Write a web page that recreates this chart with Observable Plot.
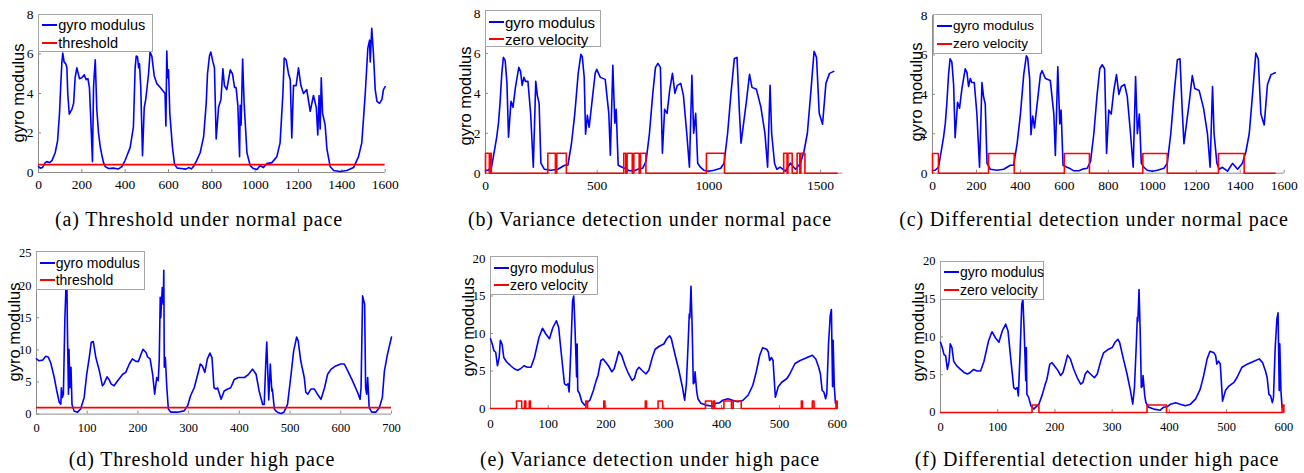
<!DOCTYPE html>
<html>
<head>
<meta charset="utf-8">
<script src="https://cdn.jsdelivr.net/npm/d3@7"></script>
<script src="https://cdn.jsdelivr.net/npm/@observablehq/plot@0.6"></script>
<style>
  body { margin: 0; background: #fff; }
  #fig { position: relative; width: 1304px; height: 473px; overflow: hidden; background: #fff; }
  .panel { position: absolute; }
  .ylab { position: absolute; font-family: "Liberation Sans", Arial, sans-serif; font-size: 16.5px; white-space: nowrap;
          transform: translate(-50%, -50%) rotate(-90deg); line-height: 1; color: #000; }
  .cap { position: absolute; font-family: "Liberation Serif", "Times New Roman", serif; font-size: 20px; line-height: 20px;
         white-space: nowrap; transform: translateX(-50%); letter-spacing: 0.85px; color: #000; }
  .legend { position: absolute; background: #fff; border: 1px solid #a6a6a6; box-sizing: border-box;
            font-family: "Liberation Sans", Arial, sans-serif; color: #000; }
  .legend .sw { position: absolute; height: 2px; width: 15px; left: 3px; }
  .legend .lt { position: absolute; left: 19px; line-height: 1; white-space: nowrap; transform: translateY(-50%); }
</style>
</head>
<body>
<div id="fig"></div>
<script>
// ---------- (a) Threshold under normal pace ----------
const aX = [0,8,18,31,38,51,62,77,88,97,103,108,112,118,126,131,135,142,154,162,169,177,189,200,211,220,228,235,242,249,254,257,262,269,277,285,292,300,308,323,346,369,385,
  400,410,423,438,446,451,457,462,466,472,480,488,495,508,515,523,534,546,562,577,584,588,592,596,600,606,618,628,640,
  660,680,695,705,715,730,746,762,774,780,789,795,805,812,820,831,842,851,858,869,885,895,905,912,920,928,931,935,942,949,962,977,992,1008,1023,1038,1054,1077,1100,1115,1128,1134,1143,1154,1162,1169,1177,1189,1200,1211,1223,1238,1254,1269,1282,1289,1295,1300,1305,1311,1323,1331,1346,1362,1392,1423,1454,1477,1492,1508,1520,1528,1531,1538,1546,1554,1562,1574,1585,1592,1600];
const aY = [0.3,0.22,0.25,0.5,0.55,0.5,0.6,1.0,1.6,3.0,4.5,5.6,6.05,5.6,5.5,5.3,4.0,2.95,3.2,3.5,4.8,5.3,4.75,4.8,4.95,4.7,4.75,4.3,2.5,0.55,4.3,4.9,5.7,3.2,2.0,1.3,0.9,0.5,0.3,0.2,0.22,0.18,0.3,
  0.62,0.9,1.27,2.3,5.3,5.9,5.85,5.3,5.5,4.3,0.85,3.3,3.7,5.0,6.1,5.9,4.9,4.5,4.3,4.1,4.0,2.35,6.15,4.8,5.2,3.0,1.3,0.4,0.22,
  0.2,0.17,0.25,0.18,0.3,0.6,1.0,1.8,3.5,5.0,5.9,6.1,5.6,5.3,1.7,3.3,3.7,5.25,4.4,4.2,5.2,5.0,4.3,4.3,3.4,0.8,3.4,2.4,5.75,3.5,1.0,0.35,0.2,0.15,0.35,0.25,0.45,0.5,0.8,1.5,4.0,5.8,5.7,5.0,4.7,1.75,4.4,4.4,5.3,4.4,4.0,4.2,3.1,3.9,3.3,1.9,3.9,2.2,4.8,3.0,2.4,1.2,0.3,0.1,0.05,0.1,0.25,0.8,1.5,4.0,6.3,6.7,5.6,7.3,6.0,4.2,3.6,3.5,3.7,4.2,4.35];
const aThreshold = 0.4;

// ---------- (b)/(c) gyro modulus, normal pace ----------
const bcX = [0,12,27,35,50,58,65,73,80,88,96,103,114,123,134,149,157,164,172,179,190,202,214,225,232,240,248,263,293,324,354,369,385,400,415,427,433,442,448,456,464,476,491,498,514,536,552,559,570,579,585,594,612,628,643,666,688,704,719,734,749,761,772,783,792,802,813,825,837,848,859,874,886,901,913,924,932,941,950,962,977,1000,1023,1053,1068,1084,1099,1114,1126,1137,1144,1152,1167,1182,1193,1213,1233,1251,1263,1274,1281,1294,1304,1319,1342,1365,1388,1410,1426,1441,1456,1471,1482,1494,1509,1524,1540,1559];
const bcY = [0.14,0.15,0.3,0.8,1.8,2.5,3.5,5.0,5.8,5.65,4.5,1.8,3.6,3.3,4.3,5.3,5.1,4.4,4.8,4.6,4.6,3.0,0.3,4.6,3.9,3.5,0.5,0.2,0.15,0.2,0.4,0.4,1.5,3.0,5.0,5.95,5.85,4.8,1.95,2.9,2.3,3.5,5.0,5.2,4.8,4.7,3.0,0.9,5.4,2.5,3.2,0.4,0.3,0.22,0.12,0.12,0.22,0.25,0.6,2.0,4.0,5.3,5.5,5.3,1.0,3.2,3.0,4.2,5.0,4.0,4.4,4.5,3.9,2.0,0.3,4.9,2.0,3.0,0.5,0.3,0.15,0.1,0.15,0.25,0.5,2.0,4.0,5.75,5.8,3.0,1.5,2.2,3.5,4.95,4.3,4.2,3.3,2.0,0.3,4.4,2.0,0.5,0.2,0.3,0.1,0.5,0.2,0.5,1.1,2.0,4.0,6.1,5.8,3.0,2.45,4.5,5.0,5.1];

// (b) variance detection: zero velocity intervals
const bZvStart = [0,22,279,319,619,634,664,694,989,1335,1354,1395,1412];
const bZvEnd   = [17,26,313,362,628,657,688,718,1070,1350,1373,1407,1430];
const bZvLast  = 1574;
// (c) differential detection: zero velocity intervals
const cZvStart = [0,255,600,957,1301];
const cZvEnd   = [27,372,714,1068,1418];
const cZvLast  = 1559;

// ---------- (d) Threshold under high pace ----------
const dX = [0,5,12,18,23,28,35,40,45,48,49,51,53,56,58,60,61,63,64,66,68,70,74,81,87,94,99,104,108,112,117,124,130,133,139,143,147,153,160,170,176,183,189,196,201,206,210,216,219,224,229,233,237,240,242,244,245,248,250,251,252,254,257,260,265,278,291,298,304,311,318,323,327,332,337,342,346,350,354,357,364,370,377,383,390,398,410,417,426,433,439,446,449,452,454,458,461,464,465,469,472,475,482,488,495,502,507,513,516,521,528,531,535,541,548,554,561,568,574,581,590,600,607,614,623,633,638,640,643,647,649,651,653,656,661,669,676,682,686,692,700];
const dY = [8.6,8.3,8.4,9.0,8.9,8.0,5.7,3.6,1.8,1.55,4.1,2.6,3.1,15,19.5,19.7,13,3.1,10.1,4.1,7.3,1.5,0.5,0.3,0.8,2.6,6.2,8.8,11.2,11.3,8.8,6.7,4.4,4.7,5.8,5.4,4.7,4.4,5.2,6.2,6.5,7.8,8.6,8.2,8.2,9.3,10.1,9.6,8.9,8.6,6.2,3.1,5.7,5.2,8.3,18.2,15,19.7,17.1,22.4,7.3,8.8,4.1,0.8,0.3,0.3,0.5,1.3,2.9,4.1,6.2,7.8,7.5,6.5,8.6,9.5,8.8,4.1,3.9,4.1,2.3,3.6,3.9,4.1,5.4,5.7,5.7,6.1,7.0,6.2,3.6,1.5,1.5,7.8,11.2,2.2,7.8,3.6,3.9,0.8,0.5,0.3,0.1,0.3,1.5,6.2,9.8,12.0,11.4,8.3,5.7,3.4,3.1,3.9,3.9,3.1,2.3,4.1,6.2,7.0,7.5,7.8,7.8,6.7,5.2,3.4,2.3,4.1,18.4,17.1,4.1,3.1,5.7,1.0,0.3,0.3,1.0,2.6,6.7,9.3,12.0];
const dThreshold = 1.0;

// ---------- (e)/(f) gyro modulus, high pace ----------
const efX = [0,3,6,9,12,15,17,20,23,28,35,41,47,52,58,64,70,76,84,90,96,102,108,114,118,122,128,131,134,136,139,142,144,146,149,150,151,154,158,163,169,172,178,183,186,191,195,199,204,210,214,218,222,227,233,239,245,249,253,257,262,269,274,280,285,292,300,305,310,313,319,326,332,336,339,342,344,345,347,349,351,353,354,357,359,364,373,384,390,396,402,411,419,428,437,446,454,460,466,471,478,481,483,486,489,493,498,504,513,518,527,536,548,557,563,568,571,574,577,580,582,585,588,590,592,593,595,597,600];
const efY = [9.3,8.6,7.7,7.5,5.7,6.8,9.1,8.6,6.8,6.2,5.7,5.3,5.1,5.3,5.7,5.5,5.5,6.8,9.5,10.7,9.9,9.3,10.8,11.7,10.8,7.7,3.3,3.1,3.3,2.2,7.7,14.3,15.0,11.3,4.2,8.6,2.4,2.0,0.9,0.45,0.9,1.1,2.4,3.75,4.4,6.4,6.6,6.2,5.7,4.9,5.3,6.4,7.6,7.1,5.7,4.6,3.75,4.0,5.1,5.5,5.1,4.6,5.1,6.8,7.9,8.3,8.6,9.3,9.7,9.3,7.3,5.1,2.9,1.1,3.3,8.6,12.6,12.1,16.3,10.8,3.3,3.5,4.9,2.2,1.3,0.7,0.45,0.3,0.7,0.75,1.1,1.3,1.1,0.9,1.1,1.8,3.1,4.9,7.1,8.1,7.9,7.5,6.4,6.8,6.4,1.5,2.9,3.5,4.0,4.6,6.0,6.4,6.8,7.1,6.6,5.5,4.6,2.4,2.2,1.3,2.0,8.6,12.4,13.2,2.9,9.1,2.9,0.7,0.9];

// (e) variance detection: zero velocity intervals
const eZvStart = [45,59,67,165,196,268,290,372,386,404,420,538,557,598];
const eZvEnd   = [54,61,69,168,198,270,298,383,388,417,434,540,560,600];
const eZvLast  = 600;
// (f) differential detection: zero velocity intervals
const fZvStart = [160,361,597];
const fZvEnd   = [172,395,600];
const fZvLast  = 600;

// ---------- ticks ----------
const ticksX1600by200 = [0,200,400,600,800,1000,1200,1400,1600];
const ticksX1600by500 = [0,500,1000,1500];
const ticksY8 = [0,2,4,6,8];
const ticksX700 = [0,100,200,300,400,500,600,700];
const ticksY25 = [0,5,10,15,20,25];
const ticksX600 = [0,100,200,300,400,500,600];
const ticksY20 = [0,5,10,15,20];

const captions = [
  "(a) Threshold under normal pace",
  "(b) Variance detection under normal pace",
  "(c) Differential detection under normal pace",
  "(d) Threshold under high pace",
  "(e) Variance detection under high pace",
  "(f) Differential detection under high pace"
];

// build a 0/1 step series from intervals
function stepSeries(starts, ends, last) {
  const xs = [0], ys = [0];
  for (let i = 0; i < starts.length; i++) {
    xs.push(starts[i], starts[i], ends[i], ends[i]);
    ys.push(0, 1, 1, 0);
  }
  xs.push(last); ys.push(0);
  return {xs, ys};
}

const BLUE = "#0000ff", RED = "#ff0000", AXIS = "#8c8c8c";
const fig = document.getElementById("fig");
const fmt = d => String(d);

const panels = [
  {frame: [38.3, 385, 14, 172], xd: [0,1600], yd: [0,8], xt: ticksX1600by200, yt: ticksY8, xPad: 7, tfs: 13.5,
   gyro: [aX, aY], thr: aThreshold, red: "threshold",
   leg: {l: 38.3, t: 14, w: 115, h: 38, fs: 14.5, r1: 11, r2: 28.7},
   ylab: [17.5, 93], cap: [199, 208.5, 0]},
  {frame: [485, 842.4, 13, 172.7], xd: [0,1600], yd: [0,8], xt: ticksX1600by500, yt: ticksY8, xPad: 7, tfs: 13.5,
   gyro: [bcX, bcY], zv: stepSeries(bZvStart, bZvEnd, bZvLast), red: "zero velocity",
   leg: {l: 485, t: 10, w: 116, h: 37, fs: 15, r1: 11.5, r2: 29},
   ylab: [464.5, 96], cap: [650, 208.5, 1]},
  {frame: [932.3, 1284, 15, 172.7], xd: [0,1600], yd: [0,8], xt: ticksX1600by200, yt: ticksY8, xPad: 7, tfs: 13.5,
   gyro: [bcX, bcY], zv: stepSeries(cZvStart, cZvEnd, cZvLast), red: "zero velocity",
   leg: {l: 933, t: 14, w: 109, h: 40, fs: 13.5, r1: 12, r2: 30},
   ylab: [916, 92], cap: [1094, 208.5, 2]},
  {frame: [35.7, 390.7, 252.7, 413.3], xd: [0,700], yd: [0,25], xt: ticksX700, yt: ticksY25, xPad: 9, tfs: 12.5,
   gyro: [dX, dY], thr: dThreshold, red: "threshold",
   leg: {l: 35.7, t: 251, w: 109, h: 39, fs: 14, r1: 11.5, r2: 29},
   ylab: [14, 332], cap: [202, 448.5, 3]},
  {frame: [490, 836.7, 258.3, 408.3], xd: [0,600], yd: [0,20], xt: ticksX600, yt: ticksY20, xPad: 10, tfs: 13,
   gyro: [efX, efY], zv: stepSeries(eZvStart, eZvEnd, eZvLast), red: "zero velocity",
   leg: {l: 490, t: 256, w: 108, h: 39, fs: 14, r1: 11.5, r2: 29},
   ylab: [467.5, 327], cap: [650, 448.5, 4]},
  {frame: [940, 1283.3, 260.7, 411.7], xd: [0,600], yd: [0,20], xt: ticksX600, yt: ticksY20, xPad: 10, tfs: 12.5,
   gyro: [efX, efY], zv: stepSeries(fZvStart, fZvEnd, fZvLast), red: "zero velocity",
   leg: {l: 940, t: 260.7, w: 104, h: 39, fs: 14, r1: 11.5, r2: 29},
   ylab: [917.5, 332], cap: [1097, 448.5, 5]}
];

const ml = 45, mr = 14, mt = 12, mb = 32;

for (const p of panels) {
  const [fx0, fx1, fyTop, fyBot] = p.frame;
  const iw = fx1 - fx0, ih = fyBot - fyTop;
  const marks = [
    Plot.ruleX(p.xt, {stroke: AXIS, strokeWidth: 1, insetTop: ih - 3}),
    Plot.ruleY(p.yt, {stroke: AXIS, strokeWidth: 1, insetRight: iw - 3}),
    Plot.ruleX([p.xd[0]], {stroke: AXIS, strokeWidth: 1}),
    Plot.ruleY([p.yd[0]], {stroke: AXIS, strokeWidth: 1}),
    Plot.axisX(p.xt, {tickSize: 0, tickPadding: p.xPad, label: null, tickFormat: fmt}),
    Plot.axisY(p.yt, {tickSize: 0, tickPadding: 5, label: null, tickFormat: fmt}),
    Plot.line(p.gyro[1], {x: p.gyro[0], y: p.gyro[1], stroke: BLUE, strokeWidth: 1.6})
  ];
  if (p.thr !== undefined) {
    marks.push(Plot.ruleY([p.thr], {stroke: RED, strokeWidth: 1.6}));
  } else {
    marks.push(Plot.line(p.zv.ys, {x: p.zv.xs, y: p.zv.ys, stroke: RED, strokeWidth: 1.6}));
  }
  const svg = Plot.plot({
    width: iw + ml + mr,
    height: ih + mt + mb,
    marginLeft: ml, marginRight: mr, marginTop: mt, marginBottom: mb,
    x: {domain: p.xd, label: null},
    y: {domain: p.yd, label: null},
    style: {fontFamily: '"Liberation Serif", "Times New Roman", serif', fontSize: p.tfs + "px", color: "#000", background: "transparent", overflow: "visible"},
    marks
  });
  svg.classList.add("panel");
  svg.style.left = (fx0 - ml) + "px";
  svg.style.top = (fyTop - mt) + "px";
  fig.appendChild(svg);

  // y label
  const yl = document.createElement("div");
  yl.className = "ylab";
  yl.textContent = "gyro modulus";
  yl.style.left = p.ylab[0] + "px";
  yl.style.top = p.ylab[1] + "px";
  fig.appendChild(yl);

  // legend
  const L = p.leg;
  const lg = document.createElement("div");
  lg.className = "legend";
  lg.style.left = L.l + "px"; lg.style.top = L.t + "px";
  lg.style.width = L.w + "px"; lg.style.height = L.h + "px";
  lg.style.fontSize = L.fs + "px";
  const entries = [[BLUE, "gyro modulus", L.r1], [RED, p.red, L.r2]];
  for (const [c, t, r] of entries) {
    const sw = document.createElement("div");
    sw.className = "sw"; sw.style.background = c; sw.style.top = (r - 2) + "px";
    const tx = document.createElement("div");
    tx.className = "lt"; tx.textContent = t; tx.style.top = (r - 1) + "px";
    lg.appendChild(sw); lg.appendChild(tx);
  }
  fig.appendChild(lg);

  // caption
  const cp = document.createElement("div");
  cp.className = "cap";
  cp.textContent = captions[p.cap[2]];
  cp.style.left = p.cap[0] + "px";
  cp.style.top = p.cap[1] + "px";
  fig.appendChild(cp);
}
</script>
</body>
</html>
